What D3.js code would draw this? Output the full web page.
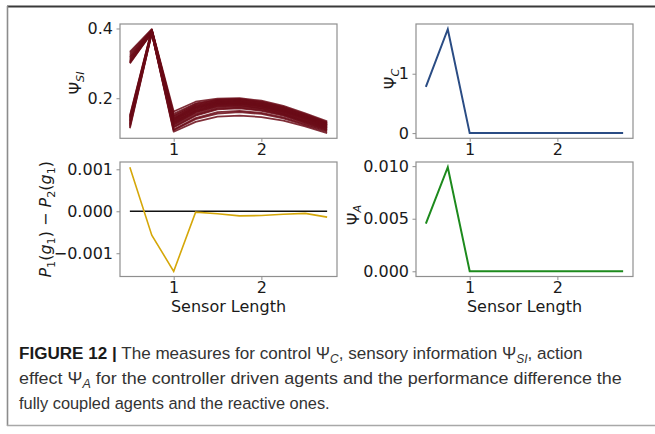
<!DOCTYPE html>
<html>
<head>
<meta charset="utf-8">
<script src="https://cdn.jsdelivr.net/npm/d3@7"></script>
<style>
  html, body { margin: 0; padding: 0; background: #fff; }
  svg { display: block; }
</style>
</head>
<body>
<svg id="fig" width="655" height="434"></svg>
<script>
// Sensor lengths shared by all four panels
const sensorLength = [0.5, 0.75, 1.0, 1.25, 1.5, 1.75, 2.0, 2.25, 2.5, 2.75];

// Sensory information Psi_SI, one run per row
const psiSI = [
  [0.333, 0.398, 0.162, 0.190, 0.199, 0.200, 0.193, 0.178, 0.157, 0.134],
  [0.328, 0.396, 0.155, 0.185, 0.196, 0.198, 0.190, 0.175, 0.154, 0.131],
  [0.322, 0.395, 0.148, 0.180, 0.193, 0.195, 0.187, 0.172, 0.151, 0.128],
  [0.318, 0.393, 0.142, 0.176, 0.190, 0.192, 0.184, 0.169, 0.148, 0.126],
  [0.314, 0.392, 0.138, 0.172, 0.187, 0.189, 0.181, 0.166, 0.145, 0.123],
  [0.310, 0.391, 0.134, 0.168, 0.184, 0.186, 0.178, 0.163, 0.142, 0.121],
  [0.306, 0.390, 0.130, 0.164, 0.181, 0.183, 0.175, 0.160, 0.139, 0.118],
  [0.302, 0.389, 0.125, 0.160, 0.177, 0.179, 0.171, 0.156, 0.135, 0.115],
  [0.300, 0.388, 0.118, 0.152, 0.170, 0.173, 0.166, 0.152, 0.131, 0.111],
  [0.304, 0.387, 0.110, 0.143, 0.160, 0.164, 0.158, 0.145, 0.126, 0.107],
  [0.150, 0.397, 0.150, 0.183, 0.195, 0.197, 0.189, 0.174, 0.153, 0.130],
  [0.146, 0.396, 0.144, 0.178, 0.191, 0.193, 0.185, 0.170, 0.149, 0.127],
  [0.142, 0.394, 0.140, 0.174, 0.188, 0.190, 0.182, 0.167, 0.146, 0.124],
  [0.138, 0.393, 0.136, 0.170, 0.185, 0.187, 0.179, 0.164, 0.143, 0.122],
  [0.134, 0.391, 0.131, 0.165, 0.182, 0.184, 0.176, 0.161, 0.140, 0.119],
  [0.130, 0.390, 0.127, 0.161, 0.178, 0.180, 0.172, 0.157, 0.136, 0.116],
  [0.126, 0.389, 0.122, 0.156, 0.174, 0.176, 0.169, 0.154, 0.133, 0.113],
  [0.122, 0.388, 0.116, 0.150, 0.168, 0.171, 0.164, 0.150, 0.129, 0.109],
  [0.118, 0.387, 0.108, 0.140, 0.156, 0.160, 0.155, 0.142, 0.123, 0.104],
  [0.114, 0.386, 0.104, 0.132, 0.147, 0.150, 0.146, 0.136, 0.119, 0.100]
];

// Control Psi_C
const psiC = [0.78, 1.75, 0, 0, 0, 0, 0, 0, 0, 0];

// Performance difference P1(g1) - P2(g1)
const perfDiff = [0.00105, -0.00057, -0.00143, -0.00002, -0.00006, -0.00011, -0.00010, -0.00007, -0.00005, -0.00014];

// Action effect Psi_A
const psiA = [0.00454, 0.0099, 0, 0, 0, 0, 0, 0, 0, 0];

// Tick values and labels
const xTicks = [1, 2];
const xTickLabels = ["1", "2"];
const psiSITicks = [0.2, 0.4];
const psiSITickLabels = ["0.2", "0.4"];
const psiCTicks = [0, 1];
const psiCTickLabels = ["0", "1"];
const perfTicks = [-0.001, 0, 0.001];
const perfTickLabels = ["\u22120.001", "0.000", "0.001"];
const psiATicks = [0, 0.005, 0.010];
const psiATickLabels = ["0.000", "0.005", "0.010"];

const svg = d3.select("#fig");
const FONT = "DejaVu Sans, sans-serif";
const FS = 16;

// frame around figure + caption
svg.append("line").attr("x1", 7).attr("x2", 655).attr("y1", 6.5).attr("y2", 6.5)
  .attr("stroke", "#3a3a3a").attr("stroke-width", 2);
svg.append("line").attr("x1", 7.5).attr("x2", 7.5).attr("y1", 6).attr("y2", 426)
  .attr("stroke", "#8c8c8c").attr("stroke-width", 1.6);
svg.append("line").attr("x1", 7).attr("x2", 655).attr("y1", 425.5).attr("y2", 425.5)
  .attr("stroke", "#a8a8a8").attr("stroke-width", 1.4);

// add mathtext-like runs (italic / subscript) into a text element
function mathRuns(text, parts, size, drop = 0.22) {
  let shift = 0;
  parts.forEach(p => {
    const ts = text.append("tspan").text(p.t);
    const target = p.sub ? size * drop : 0;
    ts.attr("dy", target - shift);
    shift = target;
    ts.attr("font-size", p.sub ? size * 0.7 : size);
    if (p.it) ts.attr("font-style", "italic");
    if (p.bold) ts.attr("font-weight", "bold").attr("fill", "#1a1a1a");
  });
}

function extentPad(values) {
  const [lo, hi] = d3.extent(values);
  const m = (hi - lo) * 0.05;
  return [lo - m, hi + m];
}

const xDomain = extentPad(sensorLength);

function panel(opts) {
  const { x0, x1, y0, y1 } = opts;
  const x = d3.scaleLinear().domain(xDomain).range([x0, x1]);
  const y = d3.scaleLinear().domain(extentPad(opts.values)).range([y1, y0]);
  const g = svg.append("g");

  const clipId = "clip" + opts.id;
  svg.append("clipPath").attr("id", clipId).append("rect")
    .attr("x", x0).attr("y", y0).attr("width", x1 - x0).attr("height", y1 - y0);
  const plot = g.append("g").attr("clip-path", `url(#${clipId})`);
  opts.draw(plot, x, y);

  // spines
  g.append("rect").attr("x", x0).attr("y", y0).attr("width", x1 - x0).attr("height", y1 - y0)
    .attr("fill", "none").attr("stroke", "#8f8f8f").attr("stroke-width", 1.2);

  // x axis
  const xAxis = d3.axisBottom(x).tickValues(xTicks)
    .tickFormat((d, i) => xTickLabels[i]).tickSize(3.5).tickPadding(1.5);
  const xa = g.append("g").attr("transform", `translate(0,${y1})`).call(xAxis);
  xa.select(".domain").remove();
  xa.selectAll(".tick line").attr("stroke", "#8f8f8f").attr("stroke-width", 1);
  xa.selectAll(".tick text").attr("font-family", FONT).attr("font-size", FS).attr("fill", "#1a1a1a");

  // y axis
  const yAxis = d3.axisLeft(y).tickValues(opts.yTicks)
    .tickFormat((d, i) => opts.yTickLabels[i]).tickSize(3.5).tickPadding(3.5);
  const ya = g.append("g").attr("transform", `translate(${x0},0)`).call(yAxis);
  ya.select(".domain").remove();
  ya.selectAll(".tick line").attr("stroke", "#8f8f8f").attr("stroke-width", 1);
  ya.selectAll(".tick text").attr("font-family", FONT).attr("font-size", FS).attr("fill", "#1a1a1a");

  // y label
  const yl = g.append("text")
    .attr("transform", `translate(${opts.labelX},${opts.labelY ?? (y0 + y1) / 2}) rotate(-90)`)
    .attr("text-anchor", "middle").attr("font-family", FONT).attr("font-size", FS)
    .attr("fill", "#1a1a1a");
  mathRuns(yl, opts.label, FS, opts.drop);

  if (opts.xlabel) {
    g.append("text").attr("x", (x0 + x1) / 2).attr("y", y1 + 35)
      .attr("text-anchor", "middle").attr("font-family", FONT).attr("font-size", FS)
      .attr("fill", "#1a1a1a").text(opts.xlabel);
  }
}

const line = (x, y) => d3.line().x((d, i) => x(sensorLength[i])).y(d => y(d));

const TOP = [24, 138.3], BOT = [162, 276.5];
const LEFT = [120, 337], RIGHT = [416, 633];

// Psi_SI
panel({
  id: "si", x0: LEFT[0], x1: LEFT[1], y0: TOP[0], y1: TOP[1],
  values: psiSI.flat(), yTicks: psiSITicks, yTickLabels: psiSITickLabels,
  labelX: 81, labelY: 83, drop: 0.18, label: [{ t: "\u03A8" }, { t: "SI", sub: true, it: true }],
  draw: (p, x, y) => {
    p.selectAll("path.run").data(psiSI).join("path").attr("class", "run")
      .attr("d", line(x, y)).attr("fill", "none")
      .attr("stroke", "#6a0a16").attr("stroke-width", 1.8).attr("stroke-opacity", 0.85)
      .attr("stroke-linejoin", "round");
  }
});

// Psi_C
panel({
  id: "c", x0: RIGHT[0], x1: RIGHT[1], y0: TOP[0], y1: TOP[1],
  values: psiC, yTicks: psiCTicks, yTickLabels: psiCTickLabels,
  labelX: 396, labelY: 79, drop: 0.18, label: [{ t: "\u03A8" }, { t: "C", sub: true, it: true }],
  draw: (p, x, y) => {
    p.append("path").attr("d", line(x, y)(psiC)).attr("fill", "none")
      .attr("stroke", "#2a4c84").attr("stroke-width", 2);
  }
});

// performance difference
panel({
  id: "p", x0: LEFT[0], x1: LEFT[1], y0: BOT[0], y1: BOT[1],
  values: perfDiff, yTicks: perfTicks, yTickLabels: perfTickLabels,
  labelX: 51, drop: 0.22, xlabel: "Sensor Length",
  label: [{ t: "P", it: true }, { t: "1", sub: true }, { t: "(" }, { t: "g", it: true },
          { t: "1", sub: true }, { t: ") \u2212 " }, { t: "P", it: true }, { t: "2", sub: true },
          { t: "(" }, { t: "g", it: true }, { t: "1", sub: true }, { t: ")" }],
  draw: (p, x, y) => {
    p.append("path").attr("d", line(x, y)(sensorLength.map(() => 0))).attr("fill", "none")
      .attr("stroke", "#111").attr("stroke-width", 1.5);
    p.append("path").attr("d", line(x, y)(perfDiff)).attr("fill", "none")
      .attr("stroke", "#d5a709").attr("stroke-width", 1.6);
  }
});

// Psi_A
panel({
  id: "a", x0: RIGHT[0], x1: RIGHT[1], y0: BOT[0], y1: BOT[1],
  values: psiA, yTicks: psiATicks, yTickLabels: psiATickLabels,
  labelX: 358.5, labelY: 215, drop: 0.16, xlabel: "Sensor Length",
  label: [{ t: "\u03A8" }, { t: "A", sub: true, it: true }],
  draw: (p, x, y) => {
    p.append("path").attr("d", line(x, y)(psiA)).attr("fill", "none")
      .attr("stroke", "#1d8a1d").attr("stroke-width", 2);
  }
});

// caption
const CAP_FONT = "Liberation Sans, Arial, sans-serif";
const CAP_FS = 17;
const captionLines = [
  { y: 359, width: 564, parts: [
    { t: "FIGURE 12 |", bold: true }, { t: " The measures for control \u03A8" }, { t: "C", sub: true, it: true },
    { t: ", sensory information \u03A8" }, { t: "SI", sub: true, it: true }, { t: ", action" }] },
  { y: 384, width: 603, parts: [
    { t: "effect \u03A8" }, { t: "A", sub: true, it: true },
    { t: " for the controller driven agents and the performance difference the" }] },
  { y: 409, width: 311, parts: [
    { t: "fully coupled agents and the reactive ones." }] }
];
captionLines.forEach(l => {
  const t = svg.append("text").attr("x", 0).attr("y", 0)
    .attr("font-family", CAP_FONT).attr("font-size", CAP_FS).attr("fill", "#333");
  mathRuns(t, l.parts, CAP_FS);
  const w = t.node().getComputedTextLength();
  t.attr("transform", `translate(19,${l.y}) scale(${l.width / w},1)`);
});
</script>
</body>
</html>
